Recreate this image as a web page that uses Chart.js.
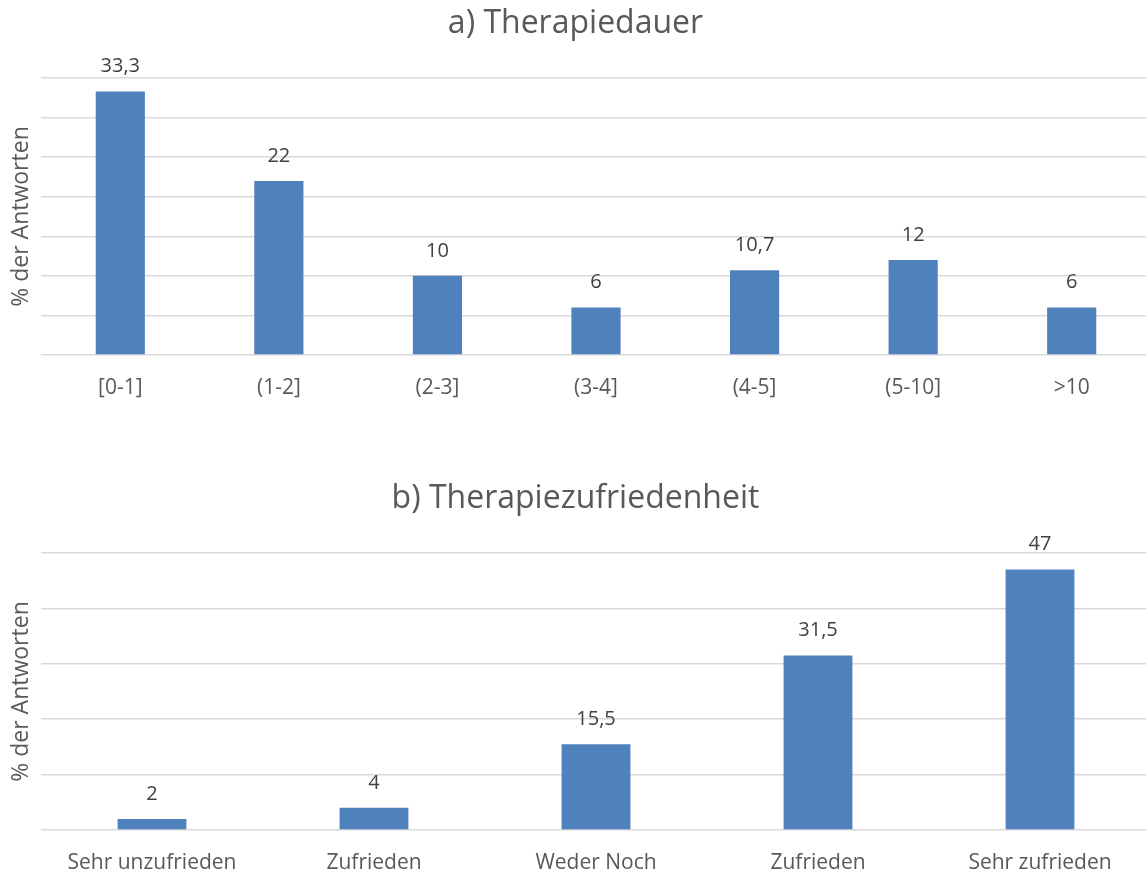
<!DOCTYPE html>
<html lang="de">
<head>
    <meta charset="UTF-8">
    <title>Therapiedauer / Therapiezufriedenheit</title>
    <script src="https://cdn.jsdelivr.net/npm/chart.js"></script>
    <style>
        html, body { margin: 0; padding: 0; background: #fff; overflow: hidden; }
        #wrap { position: relative; width: 1146px; height: 872px; overflow: hidden; }
        .box { position: absolute; left: 0; width: 1151px; }
        #boxA { top: 0; height: 415px; }
        #boxB { top: 430px; height: 442px; }
    </style>
</head>
<body>
<div id="wrap">
    <div class="box" id="boxA"><canvas id="chartA"></canvas></div>
    <div class="box" id="boxB"><canvas id="chartB"></canvas></div>
</div>

<script>
    // chart a) Therapiedauer
    const dauerLabels = ['[0-1]', '(1-2]', '(2-3]', '(3-4]', '(4-5]', '(5-10]', '>10'];
    const dauerValues = [33.3, 22, 10, 6, 10.7, 12, 6];

    // chart b) Therapiezufriedenheit
    const zufriedenLabels = ['Sehr unzufrieden', 'Zufrieden', 'Weder Noch', 'Zufrieden', 'Sehr zufrieden'];
    const zufriedenValues = [2, 4, 15.5, 31.5, 47];

    const FONT = "'Open Sans', 'Noto Sans', sans-serif";
    const BAR = '#4f81bd';
    const GRID = '#d9d9d9';

    // value labels above the bars, German decimal comma
    const valueLabels = {
        id: 'valueLabels',
        afterDatasetsDraw(chart) {
            const ctx = chart.ctx;
            const meta = chart.getDatasetMeta(0);
            const data = chart.data.datasets[0].data;
            ctx.save();
            ctx.font = '20px ' + FONT;
            ctx.fillStyle = '#404040';
            ctx.textAlign = 'center';
            ctx.textBaseline = 'middle';
            meta.data.forEach((bar, i) => {
                const txt = String(data[i]).replace('.', ',');
                ctx.fillText(txt, bar.x, bar.y - 25);
            });
            ctx.restore();
        }
    };

    function makeChart(id, title, labels, values, max, step, titleTop) {
        return new Chart(document.getElementById(id), {
            type: 'bar',
            data: {
                labels: labels,
                datasets: [{
                    data: values,
                    backgroundColor: BAR,
                    borderWidth: 0,
                    barPercentage: 0.31,
                    categoryPercentage: 1
                }]
            },
            options: {
                responsive: true,
                maintainAspectRatio: false,
                animation: false,
                layout: { padding: 0 },
                plugins: {
                    legend: { display: false },
                    tooltip: { enabled: false },
                    title: {
                        display: true,
                        text: title,
                        color: '#595959',
                        font: { family: FONT, size: 32, weight: 'normal' },
                        padding: { top: titleTop, bottom: 34.6 }
                    }
                },
                scales: {
                    x: {
                        grid: { display: false },
                        border: { display: false },
                        ticks: {
                            color: '#595959',
                            font: { family: FONT, size: 21 },
                            padding: 12,
                            maxRotation: 0,
                            autoSkip: false
                        },
                        afterFit(axis) { axis.height = id === 'chartA' ? 60 : 42; }
                    },
                    y: {
                        min: 0,
                        max: max,
                        ticks: { display: false, stepSize: step },
                        grid: { color: GRID, lineWidth: 1.5, drawTicks: false },
                        border: { display: false },
                        title: {
                            display: true,
                            text: '% der Antworten',
                            color: '#595959',
                            font: { family: FONT, size: 23 },
                            padding: { top: 8, bottom: 0 }
                        },
                        afterFit(axis) { axis.width = 41; }
                    }
                }
            },
            plugins: [valueLabels]
        });
    }

    makeChart('chartA', 'a) Therapiedauer', dauerLabels, dauerValues, 35, 5, 5);
    makeChart('chartB', 'b) Therapiezufriedenheit', zufriedenLabels, zufriedenValues, 50, 10, 50);
</script>
</body>
</html>
